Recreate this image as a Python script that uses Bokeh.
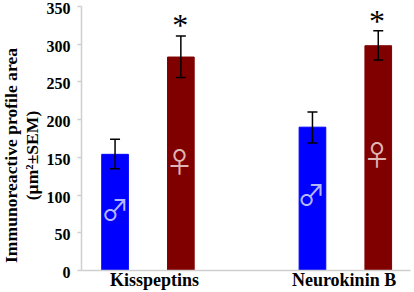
from bokeh.plotting import figure
from bokeh.embed import file_html
from bokeh.resources import INLINE
from bokeh.core.properties import value
from bokeh.models import ColumnDataSource, FixedTicker, Whisker, TeeHead, Range1d, Label

# Data
positions = [1, 2, 4, 5]
values = [154, 283, 190, 298]
err_low = [135, 256, 169, 279]
err_high = [174, 311, 210, 318]
colors = ["#0000ff", "#800000", "#0000ff", "#800000"]
y_ticks = [0, 50, 100, 150, 200, 250, 300, 350]
y_tick_labels = ["0", "50", "100", "150", "200", "250", "300", "350"]
group_positions = [1.6, 4.48]
group_labels = ["Kisspeptins", "Neurokinin B"]
star_x = [1.99, 4.98]
star_y = [325, 331]
male_x = [1.0, 3.98]
male_y = [81, 102]
female_x = [1.98, 4.98]
female_y = [145, 154]
y_title_1 = "Immunoreactive profile area"
y_title_2 = "(µm²±SEM)"

FONT = "Liberation Serif"
SYMBOL_FONT = "Noto Sans CJK SC"
GREY = "#cfcfcf"
X0, X1 = 0.49, 5.49
PX_PER_X = 329 / (X1 - X0)
PX_PER_Y = 264 / 350

p = figure(width=414, height=292, output_backend="svg", toolbar_location=None,
           x_range=Range1d(X0 - 81 / PX_PER_X, X1 + 4 / PX_PER_X),
           y_range=Range1d(-22 / PX_PER_Y, 350 + 6 / PX_PER_Y),
           min_border_left=0, min_border_right=0, min_border_top=0, min_border_bottom=0)
p.styles = {"position": "absolute", "left": "0px", "top": "0px"}
p.outline_line_color = None
p.grid.visible = False
p.background_fill_color = "white"

src = ColumnDataSource(dict(x=positions, top=values, low=err_low, high=err_high, color=colors))
p.vbar(x="x", top="top", bottom=0, width=0.405, fill_color="color", line_color="color", source=src)

w = Whisker(source=src, base="x", lower="low", upper="high", line_color="black", line_width=1.5,
            level="overlay",
            upper_head=TeeHead(size=10, line_color="black", line_width=1.5),
            lower_head=TeeHead(size=10, line_color="black", line_width=1.5))
p.add_layout(w)

p.text(star_x, star_y, text=["*", "*"], text_font=value(FONT), text_font_size="32px", text_color="black",
       text_align="center", text_baseline="middle")
p.text(male_x, male_y, text=["\u2642", "\u2642"], text_font=value(SYMBOL_FONT), text_font_size="28px", text_color="#d8d8ff",
       text_alpha=0.85, text_align="center", text_baseline="middle")
p.text(female_x, female_y, text=["\u2640", "\u2640"], text_font=value(SYMBOL_FONT), text_font_size="28px", text_color="#f0d8d8",
       text_alpha=0.85, text_align="center", text_baseline="middle")

ya = p.yaxis[0]
ya.fixed_location = X0
ya.bounds = (0, 350)
ya.ticker = FixedTicker(ticks=y_ticks)
ya.axis_line_color = GREY
ya.axis_line_width = 1.5
ya.major_tick_line_color = GREY
ya.major_tick_line_width = 1.5
ya.major_tick_in = 0
ya.major_tick_out = 4
ya.minor_tick_line_color = None
ya.major_label_overrides = {t: "" for t in y_ticks}
ya.major_label_standoff = 0

xa = p.xaxis[0]
xa.fixed_location = 0
xa.bounds = (X0, X1)
xa.ticker = FixedTicker(ticks=group_positions)
xa.major_label_overrides = {t: "" for t in group_positions}
xa.axis_line_color = GREY
xa.axis_line_width = 1.5
xa.major_tick_line_color = None
xa.major_tick_in = 0
xa.major_tick_out = 0
xa.minor_tick_line_color = None

for t, s in zip(y_ticks, y_tick_labels):
    p.add_layout(Label(x=X0, y=t, text=s, x_offset=-11, y_offset=-2,
                       text_font=FONT, text_font_style="bold", text_font_size="16px",
                       text_color="black", text_align="right", text_baseline="middle"))
for g, s in zip(group_positions, group_labels):
    p.add_layout(Label(x=g, y=0, text=s, y_offset=-9,
                       text_font=FONT, text_font_style="bold", text_font_size="18px",
                       text_color="black", text_align="center", text_baseline="middle"))
for sx, s in ((10, y_title_1), (31, y_title_2)):
    p.add_layout(Label(x=sx, y=137, x_units="screen", y_units="screen", text=s, angle=90, angle_units="deg",
                       text_font=FONT, text_font_style="bold", text_font_size="17.6px",
                       text_color="black", text_align="center", text_baseline="middle"))

open("out.html", "w").write(file_html(p, INLINE))
